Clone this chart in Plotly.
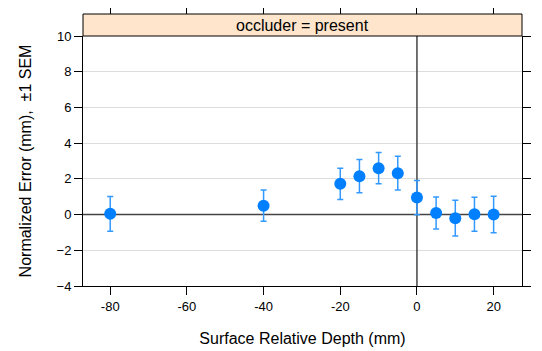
import plotly.graph_objects as go

depth = [-80, -40, -20, -15, -10, -5, 0, 5, 10, 15, 20]
error = [0.04, 0.5, 1.72, 2.15, 2.6, 2.32, 0.95, 0.09, -0.2, 0.02, 0.0]
sem = [0.97, 0.87, 0.88, 0.93, 0.87, 0.95, 0.96, 0.9, 1.0, 0.95, 1.02]
x_ticks = [-80, -60, -40, -20, 0, 20]
y_ticks = [-4, -2, 0, 2, 4, 6, 8, 10]
strip_label = "occluder = present"

FONT = "Liberation Sans, Arial, Helvetica, sans-serif"
W, H = 542, 351
# page body has an 8px margin
mt, mb, ml, mr = 6, 73, 75, 28
plot_h = H - mt - mb
strip_h = 22
ydom_top = (plot_h - strip_h) / plot_h
xr = [-87.1, 27.4]
yr = [-4, 10]

fig = go.Figure()
# reference lines (drawn first so markers sit on top)
fig.add_trace(go.Scatter(x=xr, y=[0, 0], mode="lines", line=dict(color="#444444", width=1.5),
                         showlegend=False, hoverinfo="skip"))
fig.add_trace(go.Scatter(x=[0, 0], y=yr, mode="lines", line=dict(color="#444444", width=1.5),
                         showlegend=False, hoverinfo="skip"))
fig.add_trace(go.Scatter(
    x=depth, y=error, mode="markers",
    marker=dict(color="#0080FF", size=12, line=dict(width=0)),
    error_y=dict(type="data", array=sem, color="#3399FF", thickness=1.5, width=3),
    showlegend=False,
))
# invisible trace for top axis ticks
fig.add_trace(go.Scatter(x=[depth[0]], y=[error[0]], xaxis="x2", mode="markers",
                         marker=dict(opacity=0), showlegend=False, hoverinfo="skip"))

fig.update_layout(
    width=W, height=H,
    margin=dict(l=ml, r=mr, t=mt, b=mb, autoexpand=False),
    paper_bgcolor="white", plot_bgcolor="white",
    font=dict(family=FONT, size=13, color="black"),
    xaxis=dict(
        range=xr, tickvals=x_ticks, ticktext=[f"{v}" for v in x_ticks],
        ticks="outside", ticklen=8, tickcolor="black", tickwidth=1,
        showline=True, linecolor="black", linewidth=1, mirror=False,
        showgrid=False, zeroline=False, automargin=False,
        title=dict(text="Surface Relative Depth (mm)", font=dict(size=16), standoff=20),
    ),
    xaxis2=dict(
        range=xr, tickvals=x_ticks, overlaying="x", side="top", anchor="free", position=1,
        ticks="outside", ticklen=8, tickcolor="black", tickwidth=1,
        showticklabels=False, showline=False, showgrid=False, zeroline=False,
    ),
    yaxis=dict(
        domain=[0, ydom_top], range=yr, tickvals=y_ticks,
        ticks="outside", ticklen=8, tickcolor="black", tickwidth=1,
        showline=True, linecolor="black", linewidth=1, mirror="ticks",
        showgrid=True, gridcolor="#DDDDDD", gridwidth=1, zeroline=False, automargin=False,
        title=dict(text="Normalized Error (mm),  ±1 SEM", font=dict(size=16), standoff=20),
    ),
    annotations=[dict(text=strip_label, xref="paper", yref="paper", x=0.5,
                      y=(ydom_top + 1) / 2, showarrow=False, font=dict(size=16),
                      xanchor="center", yanchor="middle")],
)

fig.add_shape(type="rect", xref="paper", yref="paper", x0=0, x1=1, y0=ydom_top, y1=1,
              fillcolor="#FFE5CC", line=dict(color="black", width=1), layer="above")

fig.write_html("out.html")
